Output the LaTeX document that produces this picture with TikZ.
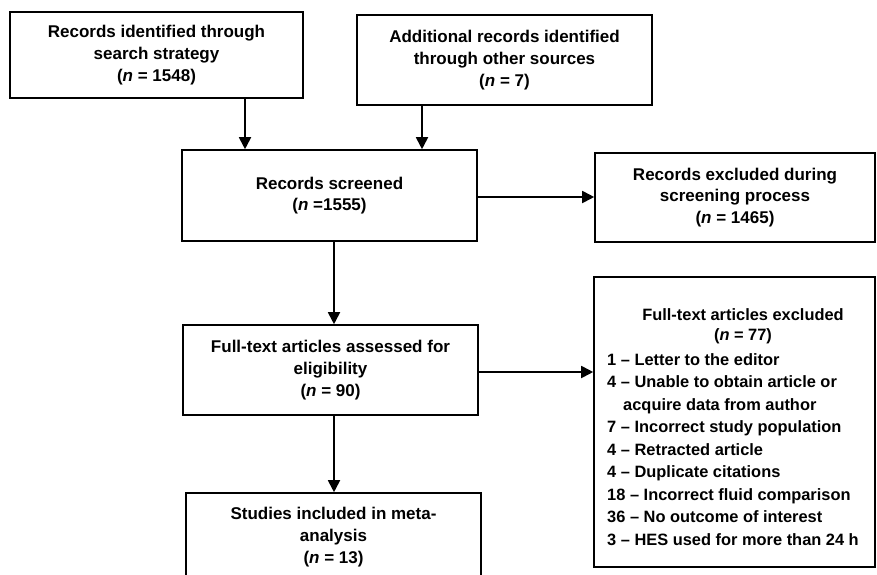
\documentclass[tikz,border=0pt]{standalone}
\usepackage{fontspec}
\setmainfont{Liberation Sans}
\usetikzlibrary{arrows.meta}
\tikzset{
  box/.style={draw=black, line width=1.6pt, inner sep=0pt, align=center,
    font=\bfseries\fontsize{17}{21.8}\selectfont},
  arr/.style={line width=1.8pt, -{Triangle[length=12pt,width=12pt]}}
}
\begin{document}
\begin{tikzpicture}[x=1pt,y=-1pt]
\useasboundingbox (0,0) rectangle (877,574);
\node[box, minimum width=293pt, minimum height=86pt] (src) at (156.5,55)
  {Records identified through\\search strategy\\(\textit{n} = 1548)};
\node[box, minimum width=295pt, minimum height=90pt] (oth) at (504.5,60)
  {Additional records identified\\through other sources\\(\textit{n} = 7)};
\node[box, minimum width=295pt, minimum height=91pt] (scr) at (329.5,195.5)
  {Records screened\\(\textit{n} =1555)};
\node[box, minimum width=280pt, minimum height=89pt] (exs) at (735,197.5)
  {Records excluded during\\screening process\\(\textit{n} = 1465)};
\node[box, minimum width=295pt, minimum height=90pt] (ful) at (330.5,370)
  {Full-text articles assessed for\\eligibility\\(\textit{n} = 90)};
\node[box, minimum width=295pt, minimum height=88pt] (inc) at (333.5,537)
  {Studies included in meta-\\analysis\\(\textit{n} = 13)};
\node[box, minimum width=281pt, minimum height=290pt] (exf) at (734.5,422) {};
\node[inner sep=0pt, font=\bfseries\fontsize{16.4}{22.5}\selectfont] (exftext) at (733,428)
  {\begin{tabular}{@{}l@{}}
   \multicolumn{1}{c}{\hspace{20pt}Full-text articles excluded}\\[-2pt]
   \multicolumn{1}{c}{\hspace{20pt}(\textit{n} = 77)}\\[2pt]
   1 -- Letter to the editor\\
   4 -- Unable to obtain article or\\
   \hspace{16pt}acquire data from author\\
   7 -- Incorrect study population\\
   4 -- Retracted article\\
   4 -- Duplicate citations\\
   18 -- Incorrect fluid comparison\\
   36 -- No outcome of interest\\
   3 -- HES used for more than 24 h
   \end{tabular}};
\coordinate (c1) at (245,0);
\coordinate (c2) at (422,0);
\coordinate (c3) at (334,0);
\draw[arr] (c1 |- src.south) -- (c1 |- scr.north);
\draw[arr] (c2 |- oth.south) -- (c2 |- scr.north);
\draw[arr] (c3 |- scr.south) -- (c3 |- ful.north);
\draw[arr] (c3 |- ful.south) -- (c3 |- inc.north);
\draw[arr] (scr.east |- 0,197) -- (exs.west |- 0,197);
\draw[arr] (ful.east |- 0,372) -- (exf.west |- 0,372);
\end{tikzpicture}
\end{document}
